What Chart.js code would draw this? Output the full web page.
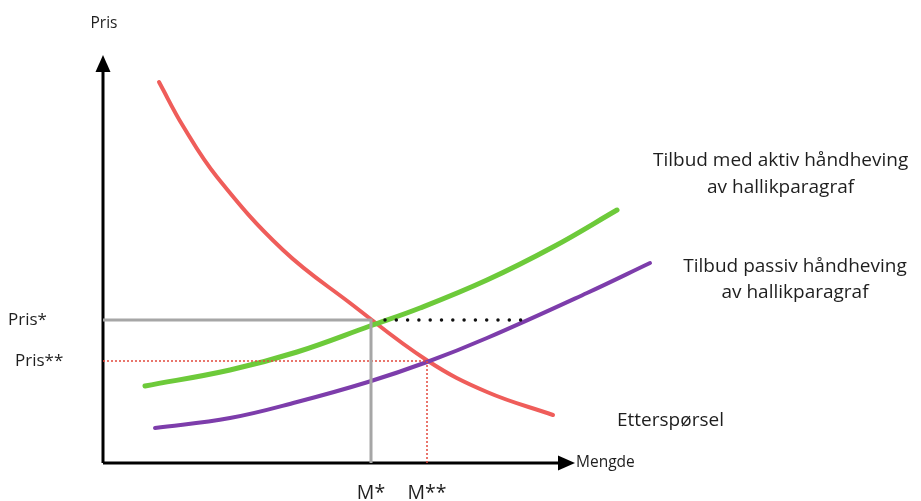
<!DOCTYPE html>
<html>
<head>
<meta charset="utf-8">
<script src="https://cdn.jsdelivr.net/npm/chart.js@4"></script>
<style>
  html, body { margin: 0; padding: 0; background: #ffffff; }
  #wrap { width: 921px; height: 501px; position: relative; }
</style>
</head>
<body>
<div id="wrap"><canvas id="chart"></canvas></div>
<script>
// curve points as [mengde, pris]
const demand = [[14, 95.25], [20, 84.25], [28.5, 71.5], [45, 53.25], [61.75, 40], [81.25, 25.5], [96, 17.75], [112.5, 12]];
const supplyActive = [[10.5, 19.25], [31.75, 23.25], [48.5, 27.75], [66.75, 34.25], [79.25, 38.75], [96, 45.75], [112.5, 54], [128.5, 63.25]];
const supplyPassive = [[13, 8.75], [31.75, 11.25], [48.5, 15.25], [66.25, 20.25], [81, 25.25], [96, 31.25], [121, 42.5], [136.75, 50]];

const prisStar = 35.75;
const prisStarStar = 25.5;
const mStar = 67;
const mStarStar = 81;
const mShiftFrom = 70.5;
const mShift = 106.75;   // where the dotted line meets the passive supply curve

const axisTopY = 102;
const axisEndX = 118;

const toXY = arr => arr.map(p => ({ x: p[0], y: p[1] }));

const labels = [
  { text: 'Pris', x: 0.25, y: 109.75, align: 'center', size: 15.5 },
  { text: 'Pris*', x: -23.75, y: 35.75, align: 'left', size: 17 },
  { text: 'Pris**', x: -22, y: 25.5, align: 'left', size: 17 },
  { text: 'M*', x: mStar, y: -7.5, align: 'center', size: 19.5 },
  { text: 'M**', x: mStarStar, y: -7.5, align: 'center', size: 19.5 },
  { text: 'Mengde', x: 118.25, y: 0, align: 'left', size: 15.5 },
  { text: 'Etterspørsel', x: 128.5, y: 10.5, align: 'left', size: 19 },
  { text: 'Tilbud med aktiv håndheving', x: 169.4, y: 75.5, align: 'center', size: 19 },
  { text: 'av hallikparagraf', x: 169.4, y: 68.75, align: 'center', size: 19 },
  { text: 'Tilbud passiv håndheving', x: 173, y: 49, align: 'center', size: 19 },
  { text: 'av hallikparagraf', x: 173, y: 42.5, align: 'center', size: 19 }
];

const fontFamily = '"Open Sans", Lato, sans-serif';

const extrasPlugin = {
  id: 'extras',
  afterDatasetsDraw(chart) {
    const ctx = chart.ctx;
    const xs = chart.scales.x;
    const ys = chart.scales.y;
    ctx.save();
    // arrowheads
    ctx.fillStyle = '#000000';
    const ox = xs.getPixelForValue(0);
    const oy = ys.getPixelForValue(0);
    const ty = ys.getPixelForValue(axisTopY);
    ctx.beginPath();
    ctx.moveTo(ox, ty);
    ctx.lineTo(ox - 7.5, ty + 17);
    ctx.lineTo(ox + 7.5, ty + 17);
    ctx.closePath();
    ctx.fill();
    const ex = xs.getPixelForValue(axisEndX);
    ctx.beginPath();
    ctx.moveTo(ex, oy);
    ctx.lineTo(ex - 17, oy - 7.5);
    ctx.lineTo(ex - 17, oy + 7.5);
    ctx.closePath();
    ctx.fill();
    // texts
    ctx.fillStyle = '#1e1e1e';
    ctx.textBaseline = 'middle';
    labels.forEach(l => {
      ctx.font = l.size + 'px ' + fontFamily;
      ctx.textAlign = l.align;
      ctx.fillText(l.text, xs.getPixelForValue(l.x), ys.getPixelForValue(l.y));
    });
    ctx.restore();
  }
};

const curve = (data, color, width) => ({
  data: toXY(data),
  borderColor: color,
  borderWidth: width,
  borderCapStyle: 'round',
  tension: 0.4,
  pointRadius: 0,
  showLine: true,
  fill: false
});

const seg = (pts, color, width, dash, cap) => ({
  data: pts,
  borderColor: color,
  borderWidth: width,
  borderDash: dash || [],
  borderCapStyle: cap || 'butt',
  pointRadius: 0,
  showLine: true,
  fill: false,
  tension: 0
});

new Chart(document.getElementById('chart'), {
  type: 'scatter',
  data: {
    datasets: [
      seg([{ x: 0, y: prisStar }, { x: mStar, y: prisStar }, { x: mStar, y: 0 }], '#a6a6a6', 3),
      seg([{ x: 0, y: prisStarStar }, { x: mStarStar, y: prisStarStar }, { x: mStarStar, y: 0 }], '#e2483c', 1.5, [2, 2]),
      seg([{ x: mShiftFrom, y: prisStar }, { x: mShift, y: prisStar }], '#111111', 3.5, [0, 11.3], 'round'),
      curve(supplyPassive, '#7d3dab', 4),
      curve(supplyActive, '#6dca3a', 5),
      curve(demand, '#ef5d5a', 4),
      seg([{ x: 0, y: 0 }, { x: 0, y: axisTopY - 3 }], '#000000', 3),
      seg([{ x: 0, y: 0 }, { x: axisEndX - 3, y: 0 }], '#000000', 3)
    ]
  },
  options: {
    responsive: true,
    maintainAspectRatio: false,
    animation: false,
    layout: { padding: 0 },
    plugins: {
      legend: { display: false },
      tooltip: { enabled: false }
    },
    scales: {
      x: { type: 'linear', min: -25.75, max: 204.5, display: false },
      y: { type: 'linear', min: -9.5, max: 115.75, display: false }
    }
  },
  plugins: [extrasPlugin]
});
</script>
</body>
</html>
